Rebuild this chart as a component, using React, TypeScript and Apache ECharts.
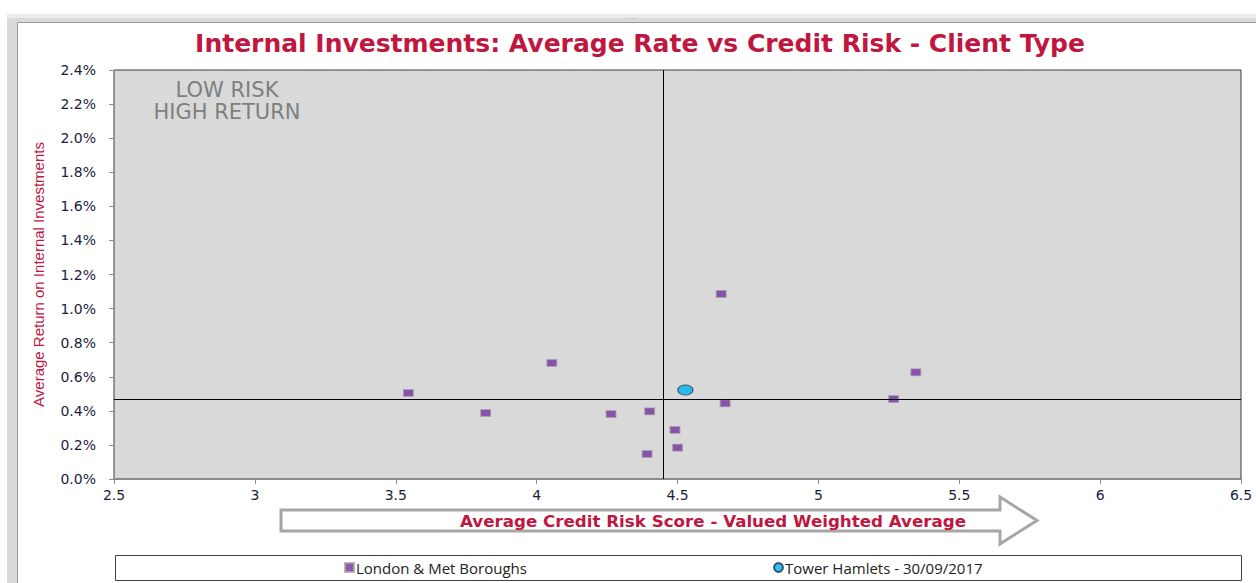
import React, { useEffect, useRef } from "react";
import * as echarts from "echarts";

const TITLE = "Internal Investments: Average Rate vs Credit Risk - Client Type";
const X_TITLE = "Average Credit Risk Score - Valued Weighted Average";
const Y_TITLE = "Average Return on Internal Investments";
const SERIES_LONDON = "London & Met Boroughs";
const SERIES_TH = "Tower Hamlets - 30/09/2017";
const NOTE_LINES = ["LOW RISK", "HIGH RETURN"];

// credit risk score
const londonX = [3.545, 3.819, 4.054, 4.264, 4.401, 4.392, 4.491, 4.5, 4.655, 4.669, 5.267, 5.346];
// average return, %
const londonY = [0.505, 0.387, 0.681, 0.381, 0.397, 0.147, 0.288, 0.184, 1.086, 0.444, 0.469, 0.626];

const towerX = [4.528];
const towerY = [0.522];

const avgX = 4.453;
const avgY = 0.474;

const xMin = 2.5, xMax = 6.5, xStep = 0.5;
const yMin = 0, yMax = 2.4, yStep = 0.2;

const CRIMSON = "#BF1740";
const LABEL = "#1c1c3c";

export default function App() {
  const ref = useRef<HTMLDivElement>(null);
  useEffect(() => {
    const chart = echarts.init(ref.current!, null, { renderer: "svg" });
    const londonData = londonX.map((x, i) => [x, londonY[i]]);
    const towerData = towerX.map((x, i) => [x, towerY[i]]);
    chart.setOption({
      animation: false,
      backgroundColor: "#ffffff",
      title: {
        text: TITLE,
        left: 640,
        textAlign: "center",
        top: 31,
        padding: 0,
        textStyle: { color: CRIMSON, fontFamily: "DejaVu Sans", fontWeight: "bold", fontSize: 25 },
      },
      grid: {
        left: 114, top: 70, width: 1127, height: 409,
        show: true, backgroundColor: "#d9d9d9", borderColor: "#3a3a3a", borderWidth: 1,
      },
      xAxis: {
        type: "value", min: xMin, max: xMax, interval: xStep,
        axisLine: { show: true, onZero: false, lineStyle: { color: "#8c8c8c", width: 1 } },
        axisTick: { show: true, length: 5, lineStyle: { color: "#8c8c8c" } },
        splitLine: { show: false },
        axisLabel: { color: LABEL, fontFamily: "DejaVu Sans", fontSize: 14, margin: 9 },
      },
      yAxis: {
        type: "value", min: yMin, max: yMax, interval: yStep,
        name: Y_TITLE, nameLocation: "middle", nameRotate: 90, nameGap: 68,
        nameTextStyle: { color: CRIMSON, fontFamily: "Liberation Sans", fontSize: 15 },
        axisLine: { show: true, onZero: false, lineStyle: { color: "#8c8c8c", width: 1 } },
        axisTick: { show: true, length: 5, lineStyle: { color: "#8c8c8c" } },
        splitLine: { show: false },
        axisLabel: { color: LABEL, fontFamily: "DejaVu Sans", fontSize: 14, margin: 18, formatter: (v: number) => v.toFixed(1) + "%" },
      },
      legend: [
        {
          data: [SERIES_LONDON], left: 344, top: 560, padding: 0, itemWidth: 9, itemHeight: 9, itemGap: 4,
          textStyle: { color: "#222", fontFamily: "Open Sans", fontSize: 15, padding: [0, 0, 0, -3] },
        },
        {
          data: [SERIES_TH], left: 773, top: 560, padding: 0, itemWidth: 9, itemHeight: 9,
          textStyle: { color: "#222", fontFamily: "Open Sans", fontSize: 15, padding: [0, 0, 0, -3] },
        },
      ],
      graphic: [
        { type: "rect", z: -10, shape: { x: 7, y: 14, width: 1249, height: 569 }, style: { fill: "#dadada" } },
        { type: "rect", z: -9, shape: { x: 7, y: 14, width: 1249, height: 4 }, style: { fill: "#ebebeb" } },
        { type: "rect", z: -8, shape: { x: 17.5, y: 22.5, width: 1240, height: 570 }, style: { fill: "#ffffff", stroke: "#9a9a9a", lineWidth: 1 } },
        { type: "text", z: 5, left: 626, top: 14, style: { text: "····", fill: "#a0a0a0", fontSize: 8 } },
        {
          type: "text", z: 5, x: 227, y: 90,
          style: { text: NOTE_LINES[0], fill: "#7f7f7f", fontFamily: "DejaVu Sans", fontSize: 21, align: "center", verticalAlign: "middle" },
        },
        {
          type: "text", z: 5, x: 227, y: 112,
          style: { text: NOTE_LINES[1], fill: "#7f7f7f", fontFamily: "DejaVu Sans", fontSize: 21, align: "center", verticalAlign: "middle" },
        },
        {
          type: "polygon", z: 5,
          shape: { points: [[281, 510], [1000, 510], [1000, 497], [1037, 520.5], [1000, 544], [1000, 531], [281, 531]] },
          style: { fill: "#ffffff", stroke: "#a6a6a6", lineWidth: 3 },
        },
        {
          type: "text", z: 6, x: 713, y: 521,
          style: { text: X_TITLE, fill: CRIMSON, fontFamily: "DejaVu Sans", fontWeight: "bold", fontSize: 16.7, align: "center", verticalAlign: "middle" },
        },
        { type: "rect", z: 5, shape: { x: 115.5, y: 555.5, width: 1126, height: 25 }, style: { fill: "none", stroke: "#404040", lineWidth: 1 } },
      ],
      series: [
        {
          name: SERIES_LONDON, type: "scatter", data: londonData,
          symbol: "rect", symbolSize: [10, 7],
          itemStyle: { color: "#7030A0", borderColor: "#a8a8a8", borderWidth: 1 },
          markLine: {
            silent: true, symbol: ["none", "none"], label: { show: false },
            lineStyle: { color: "#000000", width: 1, type: "solid" },
            data: [{ xAxis: avgX }, { yAxis: avgY }],
          },
          z: 3,
        },
        {
          name: SERIES_TH, type: "scatter", data: towerData,
          symbol: "circle", symbolSize: [15, 10],
          itemStyle: { color: "#00B0F0", borderColor: "#1f3850", borderWidth: 1 },
          z: 4,
        },
      ],
    });
    return () => chart.dispose();
  }, []);
  return <div ref={ref} style={{ position: "fixed", left: 0, top: 0, width: 1256, height: 583 }} />;
}
